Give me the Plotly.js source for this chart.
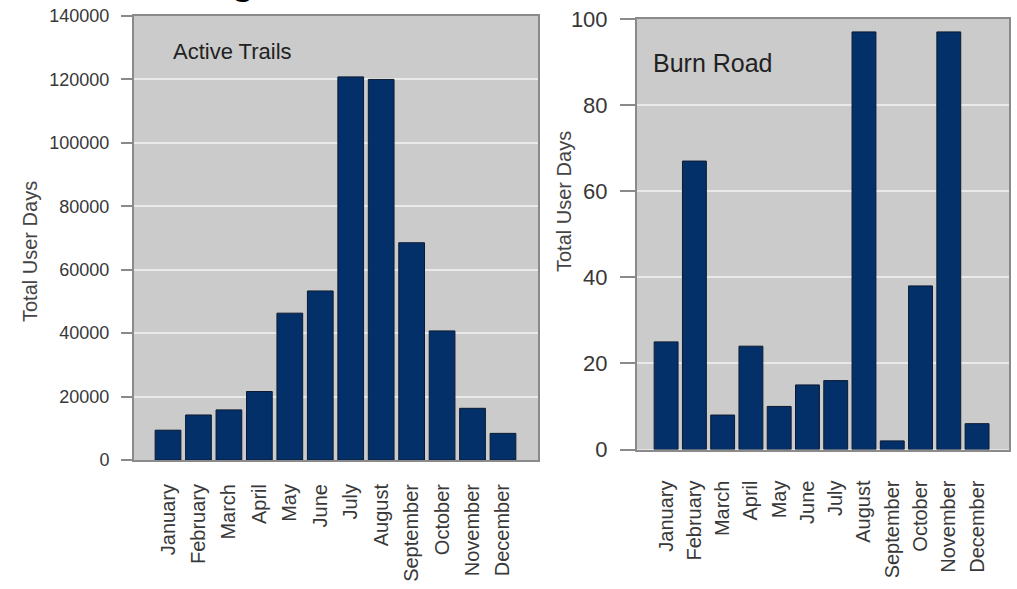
<!DOCTYPE html>
<html>
<head>
<meta charset="utf-8">
<script src="https://cdn.plot.ly/plotly-3.0.1.min.js"></script>
<style>html,body{margin:0;padding:0;background:#fff;}#chart{width:1017px;height:589px;}</style>
</head>
<body>
<div id="chart"></div>
<script>
const months = ["January","February","March","April","May","June","July","August","September","October","November","December"];
const activeTrails = [9400, 14200, 15800, 21600, 46300, 53300, 120800, 120000, 68500, 40700, 16300, 8400];
const burnRoad = [25, 67, 8, 24, 10, 15, 16, 97, 2, 38, 97, 6];
const leftTicks = [0, 20000, 40000, 60000, 80000, 100000, 120000, 140000];
const rightTicks = [0, 20, 40, 60, 80, 100];
const panelTitles = ["Active Trails", "Burn Road"];
const yTitle = "Total User Days";
const cutTitle = "g";

const W = 1017, H = 589;
const px = v => v / W;
const py = v => (H - v) / H;

const barColor = "#04306a";
const font = "Liberation Sans, Arial, sans-serif";

const traces = [
  {type: "bar", x: months.map((m, i) => i), y: activeTrails, xaxis: "x", yaxis: "y",
   marker: {color: barColor, line: {color: "#0b1a30", width: 1}}, hoverinfo: "skip"},
  {type: "bar", x: months.map((m, i) => i), y: burnRoad, xaxis: "x2", yaxis: "y2",
   marker: {color: barColor, line: {color: "#0b1a30", width: 1}}, hoverinfo: "skip"}
];

function xax(domain, range, standoff) {
  return {
    domain: domain, range: range, tickmode: "array",
    tickvals: months.map((m, i) => i), ticktext: months,
    tickangle: -90, ticks: "outside", ticklen: standoff, tickcolor: "rgba(0,0,0,0)",
    tickfont: {family: font, size: 20, color: "#383838"},
    showline: true, linecolor: "#8a8a8a", linewidth: 2, mirror: true,
    showgrid: false, zeroline: false, fixedrange: true, automargin: false
  };
}
function yax(domain, range, ticks, size, ticklen) {
  return {
    domain: domain, range: range, tickmode: "array", tickvals: ticks,
    ticktext: ticks.map(String),
    ticks: "outside", ticklen: ticklen, tickcolor: "#8a8a8a", tickwidth: 2,
    ticklabelstandoff: 8,
    tickfont: {family: font, size: size, color: "#383838"},
    showline: true, linecolor: "#8a8a8a", linewidth: 2, mirror: true,
    showgrid: true, gridcolor: "#e9e9e9", gridwidth: 2,
    zeroline: false, fixedrange: true, automargin: false
  };
}

const layout = {
  width: W, height: H,
  margin: {l: 0, r: 0, t: 0, b: 0},
  paper_bgcolor: "#ffffff", plot_bgcolor: "#cbcbcb",
  showlegend: false, bargap: 0.155,
  xaxis: xax([px(134), px(538)], [-1.117, 12.15], 14),
  yaxis: Object.assign(yax([py(460), py(16)], [0, 140000], leftTicks, 18, 11), {anchor: "x"}),
  xaxis2: Object.assign(xax([px(637), px(1009)], [-1.03, 12.13], 21), {anchor: "y2"}),
  yaxis2: Object.assign(yax([py(449.5), py(19)], [0, 100], rightTicks, 22, 15), {anchor: "x2"}),
  annotations: [
    {text: panelTitles[0], xref: "paper", yref: "paper", x: px(171), y: py(52), xanchor: "left", yanchor: "middle",
     showarrow: false, font: {family: font, size: 22, color: "#222"}},
    {text: panelTitles[1], xref: "paper", yref: "paper", x: px(651), y: py(63), xanchor: "left", yanchor: "middle",
     showarrow: false, font: {family: font, size: 25, color: "#222"}},
    {text: yTitle, xref: "paper", yref: "paper", x: px(30), y: py(252), xanchor: "center", yanchor: "middle",
     textangle: -90, showarrow: false, font: {family: font, size: 20, color: "#444"}},
    {text: yTitle, xref: "paper", yref: "paper", x: px(564), y: py(202), xanchor: "center", yanchor: "middle",
     textangle: -90, showarrow: false, font: {family: font, size: 20, color: "#444"}},
    {text: cutTitle, xref: "paper", yref: "paper", x: px(243), y: py(4), xanchor: "center", yanchor: "bottom",
     showarrow: false, font: {family: font, size: 46, color: "#000"}}
  ]
};

Plotly.newPlot("chart", traces, layout, {staticPlot: true});
</script>
</body>
</html>
